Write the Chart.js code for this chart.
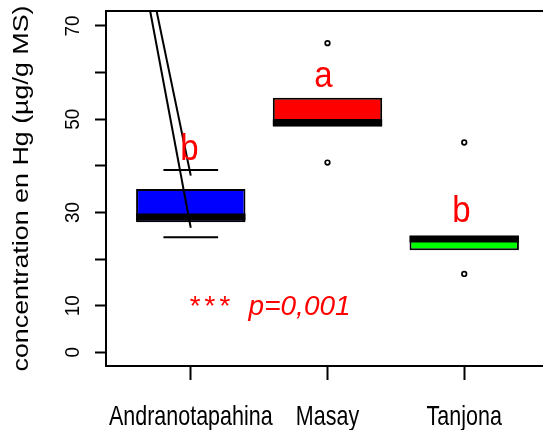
<!DOCTYPE html>
<html>
<head>
<meta charset="utf-8">
<script src="https://cdn.jsdelivr.net/npm/chart.js@4.4.1/dist/chart.umd.min.js"></script>
<style>
  html, body { margin: 0; padding: 0; background: #fff; overflow: hidden; }
  #wrap { position: relative; width: 560px; height: 430px; }
</style>
</head>
<body>
<div id="wrap"><canvas id="chart"></canvas></div>
<script>
// Hg concentration per site (boxplot)
const sites = ['Andranotapahina', 'Masay', 'Tanjona'];
const boxColors = ['#0000ff', '#ff0000', '#00ff00'];
const q1 = [27.9, 48.4, 21.9];
const medians = [29.0, 49.3, 24.3];
const q3 = [35.0, 54.6, 25.0];
const whiskLo = [24.7, 48.4, 21.9];
const whiskHi = [39.1, 54.6, 25.0];
const outliers = [[], [66.3, 40.7], [45.0, 16.8]];

// significance letters above the boxes
const letters = ['b', 'a', 'b'];
const letterX = [0.99, 1.97, 2.98];
const letterY = [41.3, 57.0, 28.0];

// the two stray diagonal strokes over the first box
const strokeA = [{ x: 0.703, y: 73.2 }, { x: 1.0, y: 26.7 }];
const strokeB = [{ x: 0.75, y: 73.2 }, { x: 1.0, y: 37.9 }];

const yTicks = [0, 10, 20, 30, 40, 50, 60, 70];
const yTickLabels = ['0', '10', '', '30', '', '50', '', '70'];
const yTitle = 'concentration en Hg (µg/g MS)';
const pStars = { text: '***', x: 1.146, y: 8.0 };
const pValue = { text: 'p=0,001', x: 1.796, y: 8.0 };

const BOX_HALF = 0.4;
const STAPLE_HALF = 0.2;

// horizontal segments centred on each site, separated by gaps
function segments(values, half, keep) {
  const pts = [];
  values.forEach((v, i) => {
    if (keep && !keep(v, i)) return;
    pts.push({ x: i + 1 - half, y: v }, { x: i + 1 + half, y: v }, { x: i + 1, y: null });
  });
  return pts;
}

function drawText(ctx, str, x, y, o) {
  ctx.save();
  ctx.translate(x, y);
  if (o.rot) ctx.rotate(o.rot);
  ctx.scale(o.sx || 1, o.sy || 1);
  ctx.font = o.font;
  ctx.fillStyle = o.color || '#000';
  ctx.textAlign = o.align || 'center';
  ctx.textBaseline = 'alphabetic';
  if (o.spacing) ctx.letterSpacing = o.spacing;
  ctx.fillText(str, 0, 0);
  ctx.restore();
}

const FONT = "'Liberation Sans', Arial, sans-serif";

const textPlugin = {
  id: 'rText',
  afterDatasetsDraw(chart) {
    const { ctx, chartArea: a, scales: { x, y } } = chart;

    // plot frame
    ctx.save();
    ctx.strokeStyle = '#000';
    ctx.lineWidth = 2;
    ctx.strokeRect(a.left, a.top, a.right - a.left, a.bottom - a.top);
    ctx.restore();

    yTicks.forEach((v, i) => {
      if (!yTickLabels[i]) return;
      drawText(ctx, yTickLabels[i], 79, y.getPixelForValue(v),
        { font: '21px ' + FONT, rot: -Math.PI / 2, sx: 0.9 });
    });
    drawText(ctx, yTitle, 28.3, (a.top + a.bottom) / 2,
      { font: '22px ' + FONT, rot: -Math.PI / 2, sx: 1.22 });

    sites.forEach((s, i) => {
      drawText(ctx, s, x.getPixelForValue(i + 1), 425, { font: '21.5px ' + FONT, sy: 1.3 });
    });

    letters.forEach((l, i) => {
      drawText(ctx, l, x.getPixelForValue(letterX[i]), y.getPixelForValue(letterY[i]),
        { font: '33px ' + FONT, color: '#ff0000', sy: 1.1 });
    });

    drawText(ctx, pStars.text, x.getPixelForValue(pStars.x), y.getPixelForValue(pStars.y),
      { font: 'italic 28px ' + FONT, color: '#ff0000', spacing: '4px' });
    drawText(ctx, pValue.text, x.getPixelForValue(pValue.x), y.getPixelForValue(pValue.y),
      { font: 'italic 28px ' + FONT, color: '#ff0000' });
  }
};

new Chart(document.getElementById('chart'), {
  type: 'bar',
  data: {
    datasets: [
      {
        // staples only where the whisker reaches beyond the box
        type: 'line',
        data: segments(whiskHi, STAPLE_HALF, (v, i) => v > q3[i])
          .concat(segments(whiskLo, STAPLE_HALF, (v, i) => v < q1[i])),
        borderColor: '#000',
        borderWidth: 2,
        pointRadius: 0,
        order: 5,
      },
      {
        type: 'bar',
        data: sites.map((s, i) => ({ x: i + 1, y: [q1[i], q3[i]] })),
        backgroundColor: boxColors,
        borderColor: '#000',
        borderWidth: 2,
        borderSkipped: false,
        barPercentage: 2 * BOX_HALF,
        categoryPercentage: 1,
        order: 4,
      },
      {
        type: 'line',
        data: segments(medians, BOX_HALF),
        borderColor: '#000',
        borderWidth: 7,
        pointRadius: 0,
        order: 3,
      },
      {
        type: 'scatter',
        data: outliers.flatMap((vals, i) => vals.map((v) => ({ x: i + 1, y: v }))),
        pointRadius: 2.3,
        pointBorderWidth: 1.7,
        borderColor: '#000',
        backgroundColor: '#fff',
        order: 2,
      },
      {
        type: 'line',
        data: strokeA,
        borderColor: '#000',
        borderWidth: 2,
        pointRadius: 0,
        order: 1,
      },
      {
        type: 'line',
        data: strokeB,
        borderColor: '#000',
        borderWidth: 2,
        pointRadius: 0,
        order: 1,
      },
    ],
  },
  options: {
    responsive: true,
    maintainAspectRatio: false,
    animation: false,
    devicePixelRatio: 1,
    layout: { padding: { top: 11, right: 11, left: 0, bottom: 0 } },
    plugins: {
      legend: { display: false },
      tooltip: { enabled: false },
    },
    scales: {
      x: {
        type: 'linear',
        min: 0.38,
        max: 3.62,
        offset: false,
        afterBuildTicks: (scale) => { scale.ticks = sites.map((s, i) => ({ value: i + 1 })); },
        afterFit: (scale) => { scale.height = 64; },
        ticks: { display: false },
        grid: {
          offset: false,
          drawOnChartArea: false,
          drawTicks: true,
          tickLength: 14,
          tickColor: '#000',
          tickWidth: 2,
        },
        border: { display: false },
      },
      y: {
        type: 'linear',
        min: -2.94,
        max: 73.2,
        afterBuildTicks: (scale) => { scale.ticks = yTicks.map((v) => ({ value: v })); },
        afterFit: (scale) => { scale.width = 106; },
        ticks: { display: false },
        grid: {
          drawOnChartArea: false,
          drawTicks: true,
          tickLength: 11,
          tickColor: '#000',
          tickWidth: 2,
        },
        border: { display: false },
      },
    },
  },
  plugins: [textPlugin],
});
</script>
</body>
</html>
